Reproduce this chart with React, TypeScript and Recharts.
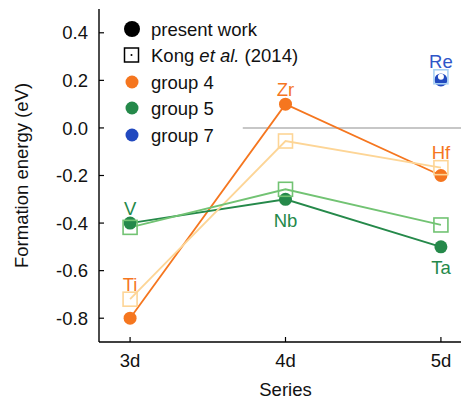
import React from 'react';
import { LineChart, Line, XAxis, YAxis, ReferenceLine, Legend, LabelList } from 'recharts';

const seriesLabels = ['3d', '4d', '5d'];
const yTicks = [-0.8, -0.6, -0.4, -0.2, 0.0, 0.2, 0.4];

const group4Elements = ['Ti', 'Zr', 'Hf'];
const group4Present = [-0.8, 0.1, -0.2];
const group4Kong = [-0.72, -0.055, -0.167];

const group5Elements = ['V', 'Nb', 'Ta'];
const group5Present = [-0.4, -0.3, -0.5];
const group5Kong = [-0.418, -0.258, -0.408];

const group7Elements = ['Re'];
const group7SeriesIndex = [2];
const group7Present = [0.202];
const group7Kong = [0.215];

const labelPlacement: Record<string, 'above' | 'below'> = {
  Ti: 'above', Zr: 'above', Hf: 'above', V: 'above', Nb: 'below', Ta: 'below', Re: 'above',
};

const FONT = '"Liberation Sans", Arial, Helvetica, sans-serif';
const FS = 18.5;

const colors = {
  g4: '#f5761f', g4k: '#fdd596',
  g5: '#25894a', g5k: '#72c373',
  g7: '#2149bf', g7k: '#a8d0f4',
  g4label: '#f5761f', g5label: '#25894a', g7label: '#2f56c8',
};

type Pt = { x: number; y: number; name: string };

const build = (elements: string[], vals: number[], idx?: number[]): Pt[] =>
  elements.map((name, i) => ({ x: idx ? idx[i] : i, y: vals[i], name }));

const buildAnchor = (elements: string[], p: number[], k: number[], idx?: number[]): Pt[] =>
  elements.map((name, i) => ({
    x: idx ? idx[i] : i,
    y: labelPlacement[name] === 'above' ? Math.max(p[i], k[i]) : Math.min(p[i], k[i]),
    name,
  }));

const g4P = build(group4Elements, group4Present);
const g4K = build(group4Elements, group4Kong);
const g5P = build(group5Elements, group5Present);
const g5K = build(group5Elements, group5Kong);
const g7P = build(group7Elements, group7Present, group7SeriesIndex);
const g7K = build(group7Elements, group7Kong, group7SeriesIndex);
const g4A = buildAnchor(group4Elements, group4Present, group4Kong);
const g5A = buildAnchor(group5Elements, group5Present, group5Kong);
const g7A = buildAnchor(group7Elements, group7Present, group7Kong, group7SeriesIndex);

const circleDot = (color: string) => (props: any) => {
  const { cx, cy, index } = props;
  if (cx == null || cy == null) return <g key={index} />;
  return <circle key={index} cx={cx} cy={cy} r={6.5} fill={color} stroke="none" />;
};

const squareDot = (color: string) => (props: any) => {
  const { cx, cy, index } = props;
  if (cx == null || cy == null) return <g key={index} />;
  return (
    <rect key={index} x={cx - 7} y={cy - 7} width={14} height={14} fill="none" stroke={color} strokeWidth={1.6} />
  );
};

const labelContent = (color: string) => (props: any) => {
  const { x, y, value } = props;
  const above = labelPlacement[value] === 'above';
  return (
    <text
      x={x}
      y={above ? y - 15 : y + 21}
      dominantBaseline="central"
      textAnchor="middle"
      fill={color}
      fontSize={FS}
      fontFamily={FONT}
    >
      {value}
    </text>
  );
};

const LeftTick = (props: any) => {
  const { x, y, payload } = props;
  return (
    <g>
      <line x1={x} x2={x + 5} y1={y} y2={y} stroke="#000" strokeWidth={1.2} />
      <text x={x - 11} y={y} dy="0.36em" textAnchor="end" fontSize={FS} fontFamily={FONT} fill="#111">
        {Number(payload.value).toFixed(1)}
      </text>
    </g>
  );
};

const RightTick = (props: any) => {
  const { x, y } = props;
  return <line x1={x - 5} x2={x} y1={y} y2={y} stroke="#000" strokeWidth={1.2} />;
};

const TopTick = (props: any) => {
  const { x, y } = props;
  return <line x1={x} x2={x} y1={y} y2={y + 5} stroke="#000" strokeWidth={1.2} />;
};

const BottomTick = (props: any) => {
  const { x, y, payload } = props;
  return (
    <g>
      <line x1={x} x2={x} y1={y} y2={y - 5} stroke="#000" strokeWidth={1.2} />
      <text x={x} y={y + 25} textAnchor="middle" fontSize={FS} fontFamily={FONT} fill="#111">
        {seriesLabels[payload.value]}
      </text>
    </g>
  );
};

const XLabel = (props: any) => {
  const vb = props.viewBox || {};
  return (
    <text x={vb.x + vb.width / 2} y={vb.y + 54} textAnchor="middle" fontSize={FS} fontFamily={FONT} fill="#111">
      Series
    </text>
  );
};

const YLabel = (props: any) => {
  const vb = props.viewBox || {};
  const cx = vb.x + 20;
  const cy = vb.y + vb.height / 2;
  return (
    <text
      x={cx}
      y={cy}
      transform={`rotate(-90 ${cx} ${cy})`}
      textAnchor="middle"
      fontSize={FS}
      fontFamily={FONT}
      fill="#111"
    >
      Formation energy (eV)
    </text>
  );
};

const legendRows = [
  { kind: 'bigcircle', color: '#000', text: 'present work' },
  { kind: 'square', color: '#000', text: 'Kong' },
  { kind: 'circle', color: colors.g4, text: 'group 4' },
  { kind: 'circle', color: colors.g5, text: 'group 5' },
  { kind: 'circle', color: colors.g7, text: 'group 7' },
];
const legendRowY = [21, 47, 74, 100, 127];

const LegendContent = () => (
  <svg width={230} height={150} style={{ display: 'block', overflow: 'visible' }}>
    {legendRows.map((r, i) => {
      const y = legendRowY[i];
      return (
        <g key={i}>
          {r.kind === 'bigcircle' && <circle cx={24} cy={y} r={8} fill={r.color} />}
          {r.kind === 'circle' && <circle cx={24} cy={y} r={6.5} fill={r.color} />}
          {r.kind === 'square' && (
            <g>
              <rect x={16.5} y={y - 7} width={14} height={14} fill="none" stroke="#000" strokeWidth={1.5} />
              <circle cx={23.5} cy={y} r={1} fill="#000" />
            </g>
          )}
          <text x={43} y={y} dy="0.36em" fontSize={FS} fontFamily={FONT} fill="#111">
            {r.kind === 'square' ? (
              <>
                {'Kong '}
                <tspan fontStyle="italic">et al.</tspan>
                {' (2014)'}
              </>
            ) : (
              r.text
            )}
          </text>
        </g>
      );
    })}
  </svg>
);

export default function App() {
  return (
    <div style={{ width: 461, height: 395, overflow: 'hidden', position: 'relative' }}>
      <LineChart width={480} height={395} margin={{ top: 1, right: 16, bottom: 0, left: 0 }}>
        <XAxis
          xAxisId="bottom"
          type="number"
          dataKey="x"
          domain={[-0.2, 2.2]}
          ticks={[0, 1, 2]}
          allowDataOverflow
          orientation="bottom"
          height={61}
          tickSize={0}
          tickMargin={0}
          tickLine={false}
          tick={<BottomTick />}
          axisLine={{ stroke: '#000', strokeWidth: 1.4 }}
          label={<XLabel />}
        />
        <XAxis
          xAxisId="top"
          type="number"
          dataKey="x"
          domain={[-0.2, 2.2]}
          ticks={[0, 1, 2]}
          allowDataOverflow
          orientation="top"
          height={0}
          tickSize={0}
          tickMargin={0}
          tickLine={false}
          tick={<TopTick />}
          axisLine={{ stroke: '#000', strokeWidth: 1.4 }}
        />
        <YAxis
          yAxisId="left"
          type="number"
          domain={[-0.9, 0.5]}
          ticks={yTicks}
          allowDataOverflow
          orientation="left"
          width={91}
          tickSize={0}
          tickMargin={0}
          tickLine={false}
          tick={<LeftTick />}
          axisLine={{ stroke: '#000', strokeWidth: 1.4 }}
          label={<YLabel />}
        />
        <YAxis
          yAxisId="right"
          type="number"
          domain={[-0.9, 0.5]}
          ticks={yTicks}
          allowDataOverflow
          orientation="right"
          width={0}
          tickSize={0}
          tickMargin={0}
          tickLine={false}
          tick={<RightTick />}
          axisLine={{ stroke: '#000', strokeWidth: 1.4 }}
        />
        <Legend
          layout="vertical"
          align="center"
          verticalAlign="middle"
          content={<LegendContent />}
          wrapperStyle={{ position: 'absolute', left: 100, top: 0, width: 230, height: 150 }}
        />
        <ReferenceLine
          xAxisId="bottom"
          yAxisId="left"
          segment={[{ x: 0.725, y: 0 }, { x: 2.2, y: 0 }]}
          stroke="#b4b4b4"
          strokeWidth={1.6}
          ifOverflow="visible"
        />
        <Line xAxisId="bottom" yAxisId="left" data={g4P} dataKey="y" stroke={colors.g4} strokeWidth={1.8}
          dot={circleDot(colors.g4)} activeDot={false} isAnimationActive={false} legendType="none" />
        <Line xAxisId="bottom" yAxisId="left" data={g5P} dataKey="y" stroke={colors.g5} strokeWidth={1.8}
          dot={circleDot(colors.g5)} activeDot={false} isAnimationActive={false} legendType="none" />
        <Line xAxisId="bottom" yAxisId="left" data={g7P} dataKey="y" stroke={colors.g7} strokeWidth={1.8}
          dot={circleDot(colors.g7)} activeDot={false} isAnimationActive={false} legendType="none" />
        <Line xAxisId="bottom" yAxisId="left" data={g4K} dataKey="y" stroke={colors.g4k} strokeWidth={1.8}
          dot={squareDot(colors.g4k)} activeDot={false} isAnimationActive={false} legendType="none" />
        <Line xAxisId="bottom" yAxisId="left" data={g5K} dataKey="y" stroke={colors.g5k} strokeWidth={1.8}
          dot={squareDot(colors.g5k)} activeDot={false} isAnimationActive={false} legendType="none" />
        <Line xAxisId="bottom" yAxisId="left" data={g7K} dataKey="y" stroke={colors.g7k} strokeWidth={1.8}
          dot={squareDot(colors.g7k)} activeDot={false} isAnimationActive={false} legendType="none" />
        <Line xAxisId="bottom" yAxisId="left" data={g4A} dataKey="y" stroke="none" dot={false} activeDot={false}
          isAnimationActive={false} legendType="none">
          <LabelList dataKey="name" content={labelContent(colors.g4label)} />
        </Line>
        <Line xAxisId="bottom" yAxisId="left" data={g5A} dataKey="y" stroke="none" dot={false} activeDot={false}
          isAnimationActive={false} legendType="none">
          <LabelList dataKey="name" content={labelContent(colors.g5label)} />
        </Line>
        <Line xAxisId="bottom" yAxisId="left" data={g7A} dataKey="y" stroke="none" dot={false} activeDot={false}
          isAnimationActive={false} legendType="none">
          <LabelList dataKey="name" content={labelContent(colors.g7label)} />
        </Line>
      </LineChart>
    </div>
  );
}
